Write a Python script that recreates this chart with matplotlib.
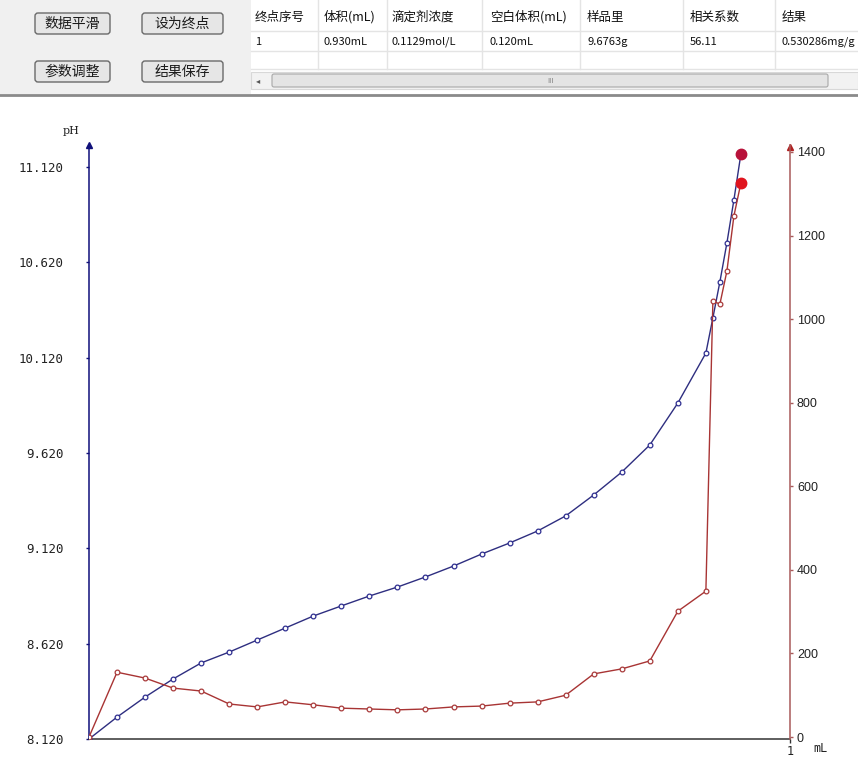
import matplotlib
matplotlib.use("Agg")
import matplotlib.pyplot as plt
from matplotlib.patches import FancyBboxPatch, Rectangle

plt.rcParams['font.family'] = ['Noto Sans CJK SC', 'DejaVu Sans']

# ---------------- data ----------------
volume = [0.00, 0.04, 0.08, 0.12, 0.16, 0.20, 0.24, 0.28, 0.32, 0.36, 0.40, 0.44,
          0.48, 0.52, 0.56, 0.60, 0.64, 0.68, 0.72, 0.76, 0.80, 0.84, 0.88,
          0.89, 0.90, 0.91, 0.92, 0.93]
ph = [8.120, 8.235, 8.340, 8.435, 8.519, 8.576, 8.639, 8.702, 8.765, 8.818,
      8.870, 8.917, 8.970, 9.027, 9.090, 9.148, 9.211, 9.290, 9.400, 9.520,
      9.662, 9.882, 10.144, 10.329, 10.518, 10.722, 10.948, 11.189]
deriv = [0, 155, 141, 117, 110, 79, 72, 84, 77, 69, 67, 65, 67, 72, 74, 81,
         84, 100, 151, 163, 182, 301, 349, 1043, 1036, 1115, 1247, 1326]

ph_ticks = [8.120, 8.620, 9.120, 9.620, 10.120, 10.620, 11.120]
deriv_ticks = [0, 200, 400, 600, 800, 1000, 1200, 1400]
x_ticks = [1]

buttons = ["数据平滑", "设为终点", "参数调整", "结果保存"]
headers = ["终点序号", "体积(mL)", "滴定剂浓度", "空白体积(mL)", "样品里", "相关系数", "结果"]
row1 = ["1", "0.930mL", "0.1129mol/L", "0.120mL", "9.6763g", "56.11", "0.530286mg/g"]

# ---------------- figure ----------------
W, H = 858, 760
fig = plt.figure(figsize=(W / 100, H / 100), dpi=100, facecolor='white')

# UI strip (pixel coordinates)
ui = fig.add_axes([0, 0, 1, 1])
ui.set_xlim(0, W)
ui.set_ylim(H, 0)
ui.axis('off')
ui.add_patch(Rectangle((0, 0), 251, 94, facecolor='#f0f0f0', edgecolor='none'))
ui.add_patch(Rectangle((251, 0), W - 251, 94, facecolor='white', edgecolor='none'))
ui.plot([0, W], [95, 95], color='#8a8a8a', lw=2)

btn_boxes = [(35, 13), (142, 13), (35, 61), (142, 61)]
for (bx, by), name in zip(btn_boxes, buttons):
    bw = 75 if bx < 100 else 81
    ui.add_patch(FancyBboxPatch((bx, by), bw, 21,
                                boxstyle="round,pad=0,rounding_size=3",
                                facecolor='#e6e6e6', edgecolor='#6a6a6a', lw=1))
    ui.text(bx + bw / 2, by + 11, name, ha='center', va='center',
            fontsize=10, color='#1a1a1a')

col_x = [255, 324, 392, 490, 587, 690, 782]
col_div = [318, 387, 482, 580, 683, 775]
for cx in col_div:
    ui.plot([cx, cx], [0, 69], color='#e4e4e4', lw=1)
for yy in [31, 51, 69]:
    ui.plot([251, W], [yy, yy], color='#e4e4e4', lw=1)
for cx, t in zip(col_x, headers):
    ui.text(cx, 17, t, ha='left', va='center', fontsize=9, color='#111111')
for cx, t in zip(col_x, row1):
    ui.text(cx, 42, t, ha='left', va='center', fontsize=8, color='#111111')
# scrollbar
ui.add_patch(Rectangle((251, 72), W - 251, 17, facecolor='#f2f2f2', edgecolor='#d8d8d8', lw=0.8))
ui.add_patch(FancyBboxPatch((272, 74), 556, 13, boxstyle="round,pad=0,rounding_size=2",
                            facecolor='#e4e4e4', edgecolor='#a8a8a8', lw=0.8))
ui.text(550, 81, "III", ha='center', va='center', fontsize=5, color='#777777')
ui.text(258, 81, "◂", ha='center', va='center', fontsize=6, color='#555555',
        family=['DejaVu Sans'])

# ---------------- chart ----------------
navy = '#10107a'
brown = '#a85a5a'
ax = fig.add_axes([89 / W, 21 / H, 701 / W, 594 / H])
ax.patch.set_alpha(0)
ax.set_xlim(0, 1)
ax.set_ylim(8.120, 8.120 + 594 / 190.67)

ax2 = ax.twinx()
ax2.set_ylim(-2 / 0.4179, 592 / 0.4179)
ax2.patch.set_alpha(0)

ax.plot(volume, ph, color='#2e2e80', lw=1, marker='o', ms=3.4, mfc='white',
        mec='#2e2e90', mew=0.9, zorder=3)
ax.plot(volume[-1], ph[-1], 'o', color='#b8123a', ms=7.5, zorder=4, clip_on=False)
ax2.plot(volume, deriv, color='#a83434', lw=1, marker='o', ms=3.4, mfc='white',
         mec='#a83a3a', mew=0.9, zorder=3)
ax2.plot(volume[-1], deriv[-1], 'o', color='#e0141e', ms=7.5, zorder=4, clip_on=False)

for a in (ax, ax2):
    a.spines['top'].set_visible(False)
ax.spines['right'].set_visible(False)
ax2.spines['left'].set_visible(False)
ax2.spines['bottom'].set_visible(False)
ax.spines['left'].set_color(navy)
ax.spines['left'].set_linewidth(1.1)
ax.spines['bottom'].set_color('#333333')
ax.spines['bottom'].set_linewidth(1.1)
ax2.spines['right'].set_color(brown)
ax2.spines['right'].set_linewidth(1.1)

# arrow heads
ax.plot(0, 1, marker='^', color=navy, ms=5, transform=ax.transAxes, clip_on=False)
ax2.plot(1, 1 - 2 / 594, marker='^', color='#b02020', ms=5, transform=ax2.transAxes,
         clip_on=False)

ax.set_yticks(ph_ticks)
ax.set_yticklabels([f"{v:.3f}" for v in ph_ticks])
ax.tick_params(axis='y', length=2, width=1, color=navy, pad=16, labelsize=9,
               labelcolor='#222222')
for lbl in ax.get_yticklabels():
    lbl.set_fontfamily('DejaVu Sans Mono')

ax.set_xticks(x_ticks)
ax.set_xticklabels([str(v) for v in x_ticks])
ax.tick_params(axis='x', length=3, width=1, color='#333333', pad=1, labelsize=8.5,
               labelcolor='#222222')
for lbl in ax.get_xticklabels():
    lbl.set_fontfamily('DejaVu Sans Mono')

ax2.set_yticks(deriv_ticks)
ax2.set_yticklabels([str(v) for v in deriv_ticks])
ax2.tick_params(axis='y', length=2, width=1, color=brown, pad=3, labelsize=9,
                labelcolor='#222222')
for lbl in ax2.get_yticklabels():
    lbl.set_fontfamily('Liberation Sans')

ui.text(71, 131, "pH", ha='center', va='center', fontsize=8, family=['DejaVu Serif'],
        color='#222222')
ui.text(820, 748, "mL", ha='center', va='center', fontsize=8.5,
        family=['DejaVu Sans Mono'], color='#222222')

fig.savefig("out.png", dpi=100, facecolor='white')
